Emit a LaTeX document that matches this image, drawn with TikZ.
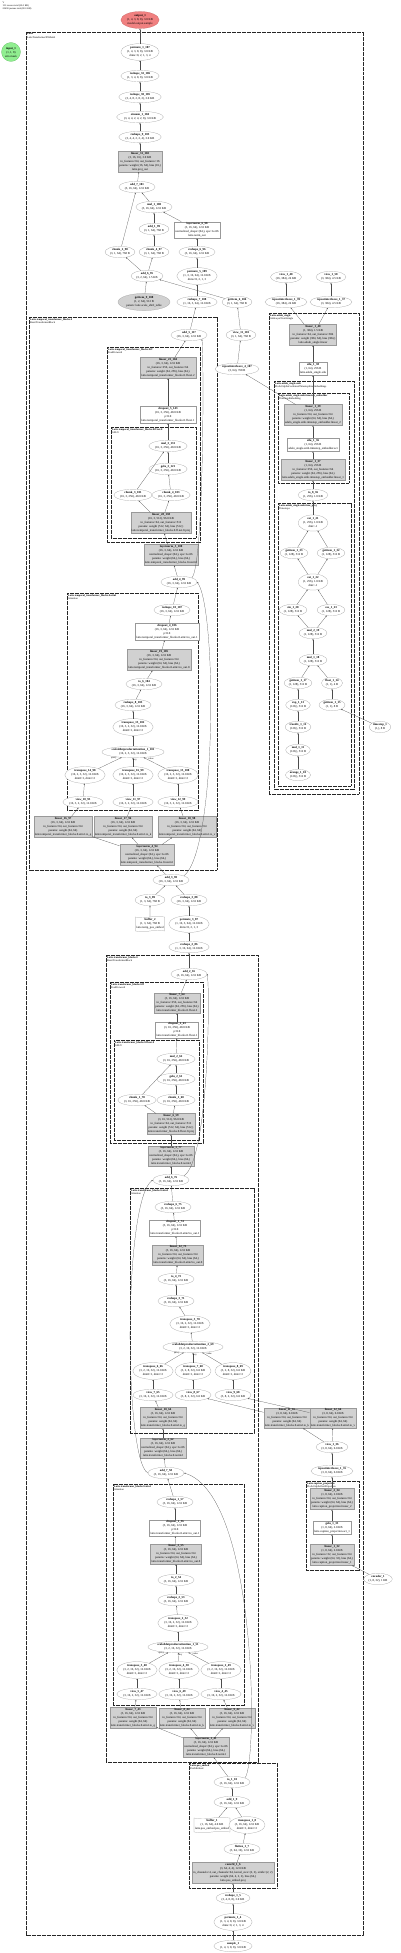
\documentclass[tikz,border=0pt]{standalone}
\usepackage{fontspec}
\setmainfont{Liberation Serif}
\usepackage{xcolor}
\usepackage{tikz}
\usetikzlibrary{arrows.meta,positioning,shapes.geometric,shapes.symbols}
\definecolor{outfill}{HTML}{F08080}
\definecolor{outline}{HTML}{C86464}
\definecolor{infill}{HTML}{90EE90}
\definecolor{inline}{HTML}{5FB85F}
\newcommand{\tfont}{\fontsize{3}{4}\selectfont}
\newcommand{\gfont}{\fontsize{2.6}{3.2}\selectfont}
\newcommand{\opn}[1]{\textbf{#1}}

\begin{document}
\begin{tikzpicture}[
    x=1pt, y=-1pt,
    op/.style={ellipse, draw=black!40, line width=0.2pt, fill=white, inner sep=0.7pt, align=center, font=\tfont},
    opgray/.style={op, fill=black!18},
    mod/.style={rectangle, draw=black!40, line width=0.2pt, fill=black!18, inner sep=1.1pt, align=center, font=\tfont},
    fn/.style={mod, fill=white},
    buf/.style={tape, draw=black!40, line width=0.2pt, fill=white, inner sep=1pt, tape bend height=1.2pt, align=center, font=\tfont},
    outn/.style={op, fill=outfill, draw=outline},
    inn/.style={circle, draw=inline, fill=infill, line width=0.2pt, inner sep=0pt, minimum size=19pt, align=center, font=\tfont},
    grp/.style={draw=black!85, line width=0.45pt, dash pattern=on 0.8pt off 0.45pt},
    glbl/.style={anchor=north west, font=\gfont, align=left, inner sep=0.5pt},
    elbl/.style={font=\fontsize{2.4}{3}\selectfont, inner sep=0.3pt},
    wire/.style={-{Stealth[length=1.5pt, width=1.2pt]}, line width=0.2pt, draw=black!70}
]
    \fill[white] (0,0) rectangle (400,1953);
    \useasboundingbox (0,0) rectangle (400,1953);

    \node[glbl, font=\fontsize{2.4}{3}\selectfont] (hdr) at (2,1) {V\\151 tensors total (20.0 KB)\\20490 params total (80.0 KB)};

    % clusters
    \draw[grp] (26,32) rectangle (363,1935);
    \node[glbl] (gLatte) at (26.5,32.5) {\opn{Latte}\\LatteTransformer3DModel};
    \draw[grp] (29,317) rectangle (217,870);
    \node[glbl] (gTemp) at (29.5,317.5) {\opn{Latte.temporal\_transformer\_blocks.0}\\BasicTransformerBlock};
    \draw[grp] (107,347) rectangle (200,542);
    \node[glbl] (gTempFF) at (107.5,347.5) {\opn{Latte.temporal\_transformer\_blocks.0.ff}\\FeedForward};
    \draw[grp] (111,427) rectangle (196,538);
    \node[glbl] (gTempNet) at (111.5,427.5) {\opn{Latte.temporal\_transformer\_blocks.0.ff.net.0}\\GELU};
    \draw[grp] (67,593) rectangle (198,810);
    \node[glbl] (gTempAttn) at (67.5,593.5) {\opn{Latte.temporal\_transformer\_blocks.0.attn1}\\Attention};
    \draw[grp] (269,313) rectangle (359,794);
    \node[glbl] (gAdaln) at (269.5,313.5) {\opn{Latte.adaln\_single}\\AdaLayerNormSingle};
    \draw[grp] (274,381) rectangle (354,789);
    \node[glbl] (gEmb) at (274.5,381.5) {\opn{Latte.adaln\_single.emb}\\PixArtAlphaCombinedTimestepSizeEmbeddings};
    \draw[grp] (278,393) rectangle (349,483);
    \node[glbl] (gTsEmb) at (278.5,393.5) {\opn{Latte.adaln\_single.emb.timestep\_embedder}\\TimestepEmbedding};
    \draw[grp] (278,503) rectangle (351,786);
    \node[glbl] (gTproj) at (278.5,503.5) {\opn{Latte.adaln\_single.emb.time\_proj}\\Timesteps};
    \draw[grp] (106,955) rectangle (258,1762);
    \node[glbl] (gBlock) at (106.5,955.5) {\opn{Latte.transformer\_blocks.0}\\BasicTransformerBlock};
    \draw[grp] (110,982) rectangle (203,1143);
    \node[glbl] (gBlockFF) at (110.5,982.5) {\opn{Latte.transformer\_blocks.0.ff}\\FeedForward};
    \draw[grp] (114,1040) rectangle (199,1140);
    \node[glbl] (gBlockNet) at (114.5,1040.5) {\opn{Latte.transformer\_blocks.0.ff.net.0}\\GELU};
    \draw[grp] (130,1188) rectangle (254,1433);
    \node[glbl] (gAttnTwo) at (130.5,1188.5) {\opn{Latte.transformer\_blocks.0.attn2}\\Attention};
    \draw[grp] (306,1481) rectangle (359,1570);
    \node[glbl] (gCaption) at (306.5,1481.5) {\opn{Latte.caption\_projection}\\PixArtAlphaTextProjection};
    \draw[grp] (113,1484) rectangle (244,1705);
    \node[glbl] (gAttnOne) at (113.5,1484.5) {\opn{Latte.transformer\_blocks.0.attn1}\\Attention};
    \draw[grp] (189,1763) rectangle (277,1888);
    \node[glbl] (gPos) at (189.5,1763.5) {\opn{Latte.pos\_embed}\\PatchEmbed};

    % output chain
    \node[outn] (out) at (140,20) {\opn{output\_1}\\(1, 4, 3, 8, 8), 3.0 KB\\model.output.sample};
    \node[inn] (inp) at (11,52) {\opn{input\_1}\\(1, 1, 8)\\attn mask};
    \node[op] (perm107) at (140,52) {\opn{permute\_1\_107}\\(1, 4, 3, 8, 8), 3.0 KB\\dims=0, 2, 1, 3, 4};
    \node[op] (resh106) at (140,76) {\opn{reshape\_32\_106}\\(1, 3, 4, 8, 8), 3.0 KB};
    \node[op] (resh105) at (140,97) {\opn{reshape\_30\_105}\\(3, 4, 8, 2, 8, 2), 3.0 KB};
    \node[op] (eins104) at (140,117) {\opn{einsum\_1\_104}\\(3, 4, 4, 2, 4, 2, 8), 3.0 KB};
    \node[op] (resh103) at (140,137) {\opn{reshape\_9\_103}\\(3, 4, 4, 2, 2, 4), 3.0 KB};
    \node[mod] (lin102) at (140,161.5) {\opn{linear\_31\_102}\\(3, 16, 16), 3.0 KB\\in\_features=64, out\_features=16\\params: weight (16, 64), bias (16,)\\latte.proj\_out};
    \node[op] (add101) at (137,187) {\opn{add\_7\_101}\\(3, 16, 64), 12.0 KB};
    \node[op] (mul100) at (154,207) {\opn{mul\_1\_100}\\(3, 16, 64), 12.0 KB};
    \node[op] (add99) at (154,229) {\opn{add\_1\_99}\\(3, 1, 64), 768 B};
    \node[fn] (ln98) at (197,230) {\opn{layernorm\_6\_98}\\(3, 16, 64), 12.0 KB\\normalized\_shape=(64,), eps=1e-06\\latte.norm\_out};
    \node[op] (chk98) at (120,252) {\opn{chunk\_2\_98}\\(3, 1, 64), 768 B};
    \node[op] (chk97) at (154,252) {\opn{chunk\_4\_97}\\(3, 1, 64), 768 B};
    \node[op] (resh96) at (197,252) {\opn{reshape\_6\_96}\\(3, 16, 64), 12.0 KB};
    \node[op] (add95) at (147,276) {\opn{add\_6\_95}\\(3, 2, 64), 1.5 KB};
    \node[op] (perm109) at (197,276) {\opn{permute\_5\_109}\\(1, 3, 16, 64), 12.0 KB\\dims=0, 2, 1, 3};
    \node[opgray] (get108) at (144,302) {\opn{getitem\_9\_108}\\(1, 2, 64), 512 B\\param: latte.scale\_shift\_table};
    \node[op] (resh108) at (197,302) {\opn{reshape\_7\_108}\\(1, 16, 3, 64), 12.0 KB};
    \node[op] (get104) at (237,302) {\opn{getitem\_6\_104}\\(3, 1, 64), 768 B};
    \node[op] (view40) at (286,277) {\opn{view\_1\_40}\\(16, 384), 24 KB};
    \node[op] (view50) at (331,277) {\opn{view\_1\_50}\\(3, 384), 4.5 KB};
    \node[op] (rep39) at (286,302) {\opn{repeatinterleave\_1\_39}\\(16, 384), 24 KB};
    \node[op] (rep37) at (331,302) {\opn{repeatinterleave\_1\_37}\\(3, 384), 4.5 KB};
    \node[op] (add117) at (189,335) {\opn{add\_5\_117}\\(16, 3, 64), 12.0 KB};
    \node[op] (view101) at (241,335) {\opn{view\_11\_101}\\(3, 1, 64), 768 B};
    \node[op] (rep107) at (237,369) {\opn{repeatinterleave\_4\_107}\\(3, 64), 768 B};

    % temporal block
    \node[mod] (lin23) at (168,368) {\opn{linear\_23\_104}\\(16, 3, 64), 12.0 KB\\in\_features=256, out\_features=64\\params: weight (64, 256), bias (64,)\\latte.temporal\_transformer\_blocks.0.ff.net.2};
    \node[fn] (drop5) at (168,415) {\opn{dropout\_5\_143}\\(16, 3, 256), 48.0 KB\\p=0.0\\latte.temporal\_transformer\_blocks.0.ff.net.1};
    \node[op] (mul3) at (168,446) {\opn{mul\_3\_131}\\(16, 3, 256), 48.0 KB};
    \node[op] (gelu3) at (168,469) {\opn{gelu\_3\_121}\\(16, 3, 256), 48.0 KB};
    \node[op] (chk3) at (133,495) {\opn{chunk\_3\_101}\\(16, 3, 256), 48.0 KB};
    \node[op] (chk4) at (171,495) {\opn{chunk\_4\_103}\\(16, 3, 256), 48.0 KB};
    \node[mod] (lin28) at (161,523) {\opn{linear\_28\_138}\\(16, 3, 512), 96.0 KB\\in\_features=64, out\_features=512\\params: weight (512, 64), bias (512,)\\latte.temporal\_transformer\_blocks.0.ff.net.0.proj};
    \node[mod] (ln5) at (171,555) {\opn{layernorm\_5\_100}\\(16, 3, 64), 12.0 KB\\normalized\_shape=(64,), eps=1e-06\\params: weight (64,), bias (64,)\\latte.temporal\_transformer\_blocks.0.norm3};
    \node[op] (add4) at (179,582) {\opn{add\_4\_99}\\(16, 3, 64), 12.0 KB};
    \node[op] (resh107) at (172,610) {\opn{reshape\_10\_107}\\(16, 3, 64), 12.0 KB};
    \node[fn] (drop4) at (167,632) {\opn{dropout\_4\_106}\\(16, 3, 64), 12.0 KB\\p=0.0\\latte.temporal\_transformer\_blocks.0.attn1.to\_out.1};
    \node[mod] (lin19) at (159,660) {\opn{linear\_19\_105}\\(16, 3, 64), 12.0 KB\\in\_features=64, out\_features=64\\params: weight (64, 64), bias (64,)\\latte.temporal\_transformer\_blocks.0.attn1.to\_out.0};
    \node[op] (to6) at (144,684) {\opn{to\_6\_104}\\(16, 3, 64), 12.0 KB};
    \node[op] (resh8) at (133,705) {\opn{reshape\_8\_103}\\(16, 3, 64), 12.0 KB};
    \node[op] (tr13) at (133,727) {\opn{transpose\_13\_102}\\(16, 3, 2, 32), 12.0 KB\\dim0=1, dim1=2};
    \node[op] (sdpa1) at (133,752) {\opn{scaleddotproductattention\_1\_101}\\(16, 2, 3, 32), 12.0 KB};
    \node[op] (tr14) at (85,775) {\opn{transpose\_14\_98}\\(16, 2, 3, 32), 12.0 KB\\dim0=1, dim1=2};
    \node[op] (tr16) at (133,775) {\opn{transpose\_16\_99}\\(16, 2, 3, 32), 12.0 KB\\dim0=1, dim1=2};
    \node[op] (tr15) at (178,775) {\opn{transpose\_15\_100}\\(16, 2, 3, 32), 12.0 KB\\dim0=1, dim1=2};
    \node[op] (view10) at (83,802) {\opn{view\_10\_95}\\(16, 3, 2, 32), 12.0 KB};
    \node[op] (view11) at (133,802) {\opn{view\_11\_97}\\(16, 3, 2, 32), 12.0 KB};
    \node[op] (view12) at (178,802) {\opn{view\_12\_99}\\(16, 3, 2, 32), 12.0 KB};
    \node[mod] (lin16) at (63,827) {\opn{linear\_16\_97}\\(16, 3, 64), 12.0 KB\\in\_features=64, out\_features=64\\params: weight (64, 64)\\latte.temporal\_transformer\_blocks.0.attn1.to\_q};
    \node[mod] (lin17) at (123,827) {\opn{linear\_17\_96}\\(16, 3, 64), 12.0 KB\\in\_features=64, out\_features=64\\params: weight (64, 64)\\latte.temporal\_transformer\_blocks.0.attn1.to\_k};
    \node[mod] (lin18) at (187,827) {\opn{linear\_18\_98}\\(16, 3, 64), 12.0 KB\\in\_features=64, out\_features=64\\params: weight (64, 64)\\latte.temporal\_transformer\_blocks.0.attn1.to\_v};
    \node[mod] (ln4) at (147,855) {\opn{layernorm\_4\_94}\\(16, 3, 64), 12.0 KB\\normalized\_shape=(64,), eps=1e-06\\params: weight (64,), bias (64,)\\latte.temporal\_transformer\_blocks.0.norm1};
    \node[op] (add3) at (171,880) {\opn{add\_3\_90}\\(16, 3, 64), 12.0 KB};
    \node[op] (to3) at (150,900) {\opn{to\_3\_89}\\(1, 3, 64), 768 B};
    \node[op] (resh88) at (189,900) {\opn{reshape\_3\_88}\\(16, 3, 64), 12.0 KB};
    \node[buf] (buf2) at (150,924) {\opn{buffer\_2}\\(1, 3, 64), 768 B\\latte.temp\_pos\_embed};
    \node[op] (perm87) at (189,924) {\opn{permute\_3\_87}\\(1, 16, 3, 64), 12.0 KB\\dims=0, 2, 1, 3};
    \node[op] (resh86) at (189,947) {\opn{reshape\_2\_86}\\(1, 3, 16, 64), 12.0 KB};

    % spatial block
    \node[op] (add65) at (189,974) {\opn{add\_2\_65}\\(3, 16, 64), 12.0 KB};
    \node[mod] (lin7) at (177,1003) {\opn{linear\_7\_64}\\(3, 16, 64), 12.0 KB\\in\_features=256, out\_features=64\\params: weight (64, 256), bias (64,)\\latte.transformer\_blocks.0.ff.net.2};
    \node[fn] (drop2) at (177,1030) {\opn{dropout\_2\_63}\\(3, 16, 256), 48.0 KB\\p=0.0\\latte.transformer\_blocks.0.ff.net.1};
    \node[op] (mul2) at (176,1059) {\opn{mul\_2\_62}\\(3, 16, 256), 48.0 KB};
    \node[op] (gelu2) at (176,1079) {\opn{gelu\_2\_61}\\(3, 16, 256), 48.0 KB};
    \node[op] (chk78) at (137,1100) {\opn{chunk\_1\_78}\\(3, 16, 256), 48.0 KB};
    \node[op] (chk60) at (176,1100) {\opn{chunk\_1\_60}\\(3, 16, 256), 48.0 KB};
    \node[mod] (lin6) at (171,1124) {\opn{linear\_6\_59}\\(3, 16, 512), 96.0 KB\\in\_features=64, out\_features=512\\params: weight (512, 64), bias (512,)\\latte.transformer\_blocks.0.ff.net.0.proj};
    \node[mod] (ln3) at (171,1156) {\opn{layernorm\_3\_77}\\(3, 16, 64), 12.0 KB\\normalized\_shape=(64,), eps=1e-06\\params: weight (64,), bias (64,)\\latte.transformer\_blocks.0.norm3};
    \node[op] (add76) at (171,1180) {\opn{add\_6\_76}\\(3, 16, 64), 12.0 KB};
    \node[op] (resh75) at (173,1207) {\opn{reshape\_6\_75}\\(3, 16, 64), 12.0 KB};
    \node[fn] (drop74) at (175,1228) {\opn{dropout\_1\_74}\\(3, 16, 64), 12.0 KB\\p=0.0\\latte.transformer\_blocks.0.attn2.to\_out.1};
    \node[mod] (lin73) at (178,1255) {\opn{linear\_12\_73}\\(3, 16, 64), 12.0 KB\\in\_features=64, out\_features=64\\params: weight (64, 64), bias (64,)\\latte.transformer\_blocks.0.attn2.to\_out.0};
    \node[op] (to72) at (176,1279) {\opn{to\_4\_72}\\(3, 16, 64), 12.0 KB};
    \node[op] (resh71) at (176,1301) {\opn{reshape\_3\_71}\\(3, 16, 64), 12.0 KB};
    \node[op] (tr70) at (190,1324) {\opn{transpose\_5\_70}\\(3, 16, 2, 32), 12.0 KB\\dim0=1, dim1=2};
    \node[op] (sdpa2) at (193,1347) {\opn{scaleddotproductattention\_2\_69}\\(3, 2, 16, 32), 12.0 KB};
    \node[op] (tr66) at (153,1371) {\opn{transpose\_6\_66}\\(3, 2, 16, 32), 12.0 KB\\dim0=1, dim1=2};
    \node[op] (tr68) at (193,1371) {\opn{transpose\_7\_68}\\(3, 2, 8, 32), 6.0 KB\\dim0=1, dim1=2};
    \node[op] (tr69) at (233,1371) {\opn{transpose\_8\_69}\\(3, 2, 8, 32), 6.0 KB\\dim0=1, dim1=2};
    \node[op] (view65) at (153,1395) {\opn{view\_7\_65}\\(3, 16, 2, 32), 12.0 KB};
    \node[op] (view67) at (193,1395) {\opn{view\_8\_67}\\(3, 8, 2, 32), 6.0 KB};
    \node[op] (view68) at (233,1395) {\opn{view\_9\_68}\\(3, 8, 2, 32), 6.0 KB};
    \node[mod] (lin64) at (163,1418) {\opn{linear\_10\_64}\\(3, 16, 64), 12.0 KB\\in\_features=64, out\_features=64\\params: weight (64, 64)\\latte.transformer\_blocks.0.attn2.to\_q};
    \node[mod] (lin65) at (287,1418) {\opn{linear\_11\_65}\\(3, 8, 64), 6.0 KB\\in\_features=64, out\_features=64\\params: weight (64, 64)\\latte.transformer\_blocks.0.attn2.to\_k};
    \node[mod] (lin66) at (333,1418) {\opn{linear\_12\_66}\\(3, 8, 64), 6.0 KB\\in\_features=64, out\_features=64\\params: weight (64, 64)\\latte.transformer\_blocks.0.attn2.to\_v};
    \node[mod] (ln62) at (163,1448) {\opn{layernorm\_2\_62}\\(3, 16, 64), 12.0 KB\\normalized\_shape=(64,), eps=1e-06\\params: weight (64,), bias (64,)\\latte.transformer\_blocks.0.norm2};
    \node[op] (view36) at (332,1447) {\opn{view\_1\_36}\\(3, 8, 64), 6.0 KB};
    \node[op] (rep35) at (332,1471) {\opn{repeatinterleave\_1\_35}\\(3, 8, 64), 6.0 KB};
    \node[mod] (lin34) at (332,1499) {\opn{linear\_2\_34}\\(1, 8, 64), 2.0 KB\\in\_features=64, out\_features=64\\params: weight (64, 64), bias (64,)\\latte.caption\_projection.linear\_2};
    \node[fn] (gelu33) at (332,1528) {\opn{gelu\_1\_33}\\(1, 8, 64), 2.0 KB\\latte.caption\_projection.act\_1};
    \node[mod] (lin32) at (332,1555) {\opn{linear\_1\_32}\\(1, 8, 64), 2.0 KB\\in\_features=32, out\_features=64\\params: weight (64, 32), bias (64,)\\latte.caption\_projection.linear\_1};
    \node[op] (enc) at (378,1579) {\opn{encoder\_1}\\(1, 8, 32), 1 KB};
    \node[op] (add58) at (166,1473) {\opn{add\_7\_58}\\(3, 16, 64), 12.0 KB};
    \node[op] (resh57) at (175,1502) {\opn{reshape\_1\_57}\\(3, 16, 64), 12.0 KB};
    \node[fn] (drop56) at (175,1528) {\opn{dropout\_1\_56}\\(3, 16, 64), 12.0 KB\\p=0.0\\latte.transformer\_blocks.0.attn1.to\_out.1};
    \node[mod] (lin55) at (176,1554) {\opn{linear\_3\_55}\\(3, 16, 64), 12.0 KB\\in\_features=64, out\_features=64\\params: weight (64, 64), bias (64,)\\latte.transformer\_blocks.0.attn1.to\_out.0};
    \node[op] (to54) at (176,1580) {\opn{to\_2\_54}\\(3, 16, 64), 12.0 KB};
    \node[op] (resh53) at (176,1600) {\opn{reshape\_2\_53}\\(3, 16, 64), 12.0 KB};
    \node[op] (tr52) at (178,1623) {\opn{transpose\_2\_52}\\(3, 16, 2, 32), 12.0 KB\\dim0=1, dim1=2};
    \node[op] (sdpa3) at (178,1647) {\opn{scaleddotproductattention\_1\_51}\\(3, 2, 16, 32), 12.0 KB};
    \node[op] (tr48) at (137,1670) {\opn{transpose\_3\_48}\\(3, 2, 16, 32), 12.0 KB\\dim0=1, dim1=2};
    \node[op] (tr50) at (179,1670) {\opn{transpose\_4\_50}\\(3, 2, 16, 32), 12.0 KB\\dim0=1, dim1=2};
    \node[op] (tr49) at (221,1670) {\opn{transpose\_2\_49}\\(3, 2, 16, 32), 12.0 KB\\dim0=1, dim1=2};
    \node[op] (view47) at (137,1694) {\opn{view\_5\_47}\\(3, 16, 2, 32), 12.0 KB};
    \node[op] (view49) at (179,1694) {\opn{view\_6\_49}\\(3, 16, 2, 32), 12.0 KB};
    \node[op] (view45) at (221,1694) {\opn{view\_4\_45}\\(3, 16, 2, 32), 12.0 KB};
    \node[mod] (lin43) at (133,1718) {\opn{linear\_7\_43}\\(3, 16, 64), 12.0 KB\\in\_features=64, out\_features=64\\params: weight (64, 64)\\latte.transformer\_blocks.0.attn1.to\_q};
    \node[mod] (lin44) at (182,1718) {\opn{linear\_8\_44}\\(3, 16, 64), 12.0 KB\\in\_features=64, out\_features=64\\params: weight (64, 64)\\latte.transformer\_blocks.0.attn1.to\_k};
    \node[mod] (lin42) at (232,1718) {\opn{linear\_9\_42}\\(3, 16, 64), 12.0 KB\\in\_features=64, out\_features=64\\params: weight (64, 64)\\latte.transformer\_blocks.0.attn1.to\_v};
    \node[mod] (ln41) at (206,1747) {\opn{layernorm\_1\_41}\\(3, 16, 64), 12.0 KB\\normalized\_shape=(64,), eps=1e-06\\params: weight (64,), bias (64,)\\latte.transformer\_blocks.0.norm1};

    % patch embedding
    \node[op] (to10) at (232,1782) {\opn{to\_1\_10}\\(3, 16, 64), 12.0 KB};
    \node[op] (add9) at (232,1802) {\opn{add\_1\_9}\\(3, 16, 64), 12.0 KB};
    \node[buf] (buf1) at (212,1825) {\opn{buffer\_1}\\(1, 16, 64), 4.0 KB\\latte.pos\_embed.pos\_embed};
    \node[op] (tr8) at (247,1825) {\opn{transpose\_1\_8}\\(3, 16, 64), 12.0 KB\\dim0=1, dim1=2};
    \node[op] (flat7) at (242,1849) {\opn{flatten\_1\_7}\\(3, 64, 16), 12.0 KB};
    \node[mod] (conv6) at (233,1873) {\opn{conv2d\_1\_6}\\(3, 64, 4, 4), 12.0 KB\\in\_channels=4, out\_channels=64, kernel\_size=(2, 2), stride=(2, 2)\\params: weight (64, 4, 2, 2), bias (64,)\\latte.pos\_embed.proj};
    \node[op] (resh5) at (233,1898) {\opn{reshape\_1\_5}\\(3, 4, 8, 8), 3.0 KB};
    \node[op] (perm4) at (233,1922) {\opn{permute\_1\_4}\\(1, 3, 4, 8, 8), 3.0 KB\\dims=0, 2, 1, 3, 4};
    \node[op] (sample) at (233,1946) {\opn{sample\_1}\\(1, 4, 3, 8, 8), 3.0 KB};

    % timestep conditioning
    \node[mod] (lin40) at (313,335) {\opn{linear\_1\_40}\\(1, 384), 1.5 KB\\in\_features=64, out\_features=384\\params: weight (384, 64), bias (384,)\\latte.adaln\_single.linear};
    \node[fn] (silu38) at (313,369) {\opn{silu\_1\_38}\\(1, 64), 256 B\\latte.adaln\_single.silu};
    \node[mod] (lin39) at (313,415) {\opn{linear\_1\_39}\\(1, 64), 256 B\\in\_features=64, out\_features=64\\params: weight (64, 64), bias (64,)\\adaln\_single.emb.timestep\_embedder.linear\_2};
    \node[fn] (silu36) at (313,445) {\opn{silu\_1\_36}\\(1, 64), 256 B\\adaln\_single.emb.timestep\_embedder.act};
    \node[mod] (lin37) at (313,470) {\opn{linear\_1\_37}\\(1, 64), 256 B\\in\_features=256, out\_features=64\\params: weight (64, 256), bias (64,)\\latte.adaln\_single.emb.timestep\_embedder.linear\_1};
    \node[op] (to36) at (313,495) {\opn{to\_8\_36}\\(1, 256), 1.0 KB};
    \node[op] (cat21) at (313,523) {\opn{cat\_1\_21}\\(1, 256), 1.0 KB\\dim=-1};
    \node[op] (get33) at (294,553) {\opn{getitem\_1\_33}\\(1, 128), 512 B};
    \node[op] (get32) at (331,553) {\opn{getitem\_1\_32}\\(1, 128), 512 B};
    \node[op] (cat22) at (313,582) {\opn{cat\_1\_22}\\(1, 256), 1.0 KB\\dim=-1};
    \node[op] (sin20) at (293,610) {\opn{sin\_1\_20}\\(1, 128), 512 B};
    \node[op] (cos23) at (331,610) {\opn{cos\_1\_23}\\(1, 128), 512 B};
    \node[op] (mul19) at (313,633) {\opn{mul\_2\_19}\\(1, 128), 512 B};
    \node[op] (mul18) at (313,660) {\opn{mul\_1\_18}\\(1, 128), 512 B};
    \node[op] (get17) at (298,683) {\opn{getitem\_1\_17}\\(1, 128), 512 B};
    \node[op] (flt14) at (332,683) {\opn{float\_1\_14}\\(1, 1), 4 B};
    \node[op] (exp13) at (298,705) {\opn{exp\_1\_13}\\(128,), 512 B};
    \node[op] (get15) at (332,705) {\opn{getitem\_1\_15}\\(1, 1), 8 B};
    \node[op] (div12) at (298,727) {\opn{truediv\_1\_12}\\(128,), 512 B};
    \node[op] (mul11) at (298,750) {\opn{mul\_1\_11}\\(128,), 512 B};
    \node[op] (arng10) at (298,775) {\opn{arange\_1\_10}\\(128,), 512 B};
    \node[op] (tstep) at (380,727) {\opn{timestep\_1}\\(1,), 8 B};

    % connectors: output chain
    \draw[wire] (perm107) -- (out);
    \draw[wire] (resh106) -- (perm107);
    \draw[wire] (resh105) -- (resh106);
    \draw[wire] (eins104) -- (resh105);
    \draw[wire] (resh103) -- (eins104);
    \draw[wire] (lin102) -- (resh103);
    \draw[wire] (add101) -- (lin102);
    \draw[wire] (mul100) -- (add101);
    \draw[wire] (chk98) -- (add101);
    \draw[wire] (add99) -- (mul100);
    \draw[wire] (ln98) -- (mul100);
    \draw[wire] (chk97) -- (add99);
    \draw[wire] (add95) -- (chk98);
    \draw[wire] (add95) -- (chk97);
    \draw[wire] (resh96) -- (ln98);
    \draw[wire] (perm109) -- (resh96);
    \draw[wire] (resh108) -- (perm109);
    \draw[wire] (get108) -- (add95);
    \draw[wire] (get104) -- (add95);
    \draw[wire] (add117) -- (resh108);
    \draw[wire] (view101) -- (get104);
    \draw[wire] (rep107) -- (view101);
    \draw[wire] (lin39) -- (rep107);
    \draw[wire] (rep39) -- (view40);
    \draw[wire] (rep37) -- (view50);
    \draw[wire] (lin40) -- (rep39);
    \draw[wire] (lin40) -- (rep37);

    % connectors: temporal block
    \draw[wire] (lin23) -- (add117);
    \draw[wire] (add4.north east) .. controls (204,565) and (204,355) .. (add117.south east);
    \draw[wire] (drop5) -- (lin23);
    \draw[wire] (mul3) -- (drop5);
    \draw[wire] (gelu3) -- (mul3);
    \draw[wire] (chk3) -- (mul3);
    \draw[wire] (chk4) -- (gelu3);
    \draw[wire] (lin28) -- (chk3);
    \draw[wire] (lin28) -- (chk4);
    \draw[wire] (ln5) -- (lin28);
    \draw[wire] (add4) -- (ln5);
    \draw[wire] (resh107) -- (add4);
    \draw[wire] (add3.north east) .. controls (217,850) and (217,610) .. (add4.east);
    \draw[wire] (drop4) -- (resh107);
    \draw[wire] (lin19) -- (drop4);
    \draw[wire] (to6) -- (lin19);
    \draw[wire] (resh8) -- (to6);
    \draw[wire] (tr13) -- (resh8);
    \draw[wire] (sdpa1) -- (tr13);
    \draw[wire] (tr14) -- node[elbl, pos=0.8, above left] {query} (sdpa1);
    \draw[wire] (tr16) -- node[elbl, pos=0.75, right] {key} (sdpa1);
    \draw[wire] (tr15) -- node[elbl, pos=0.8, above right] {value} (sdpa1);
    \draw[wire] (view10) -- (tr14);
    \draw[wire] (view11) -- (tr16);
    \draw[wire] (view12) -- (tr15);
    \draw[wire] (lin16) -- (view10);
    \draw[wire] (lin17) -- (view11);
    \draw[wire] (lin18) -- (view12);
    \draw[wire] (ln4) -- (lin16);
    \draw[wire] (ln4) -- (lin17);
    \draw[wire] (ln4) -- (lin18);
    \draw[wire] (add3) -- (ln4);
    \draw[wire] (to3) -- (add3);
    \draw[wire] (resh88) -- (add3);
    \draw[wire] (buf2) -- (to3);
    \draw[wire] (perm87) -- (resh88);
    \draw[wire] (resh86) -- (perm87);
    \draw[wire] (add65) -- (resh86);

    % connectors: spatial block
    \draw[wire] (lin7) -- (add65);
    \draw[wire] (add76.north east) .. controls (209,1160) and (210,990) .. (add65.east);
    \draw[wire] (drop2) -- (lin7);
    \draw[wire] (mul2) -- (drop2);
    \draw[wire] (gelu2) -- (mul2);
    \draw[wire] (chk78) -- (mul2);
    \draw[wire] (chk60) -- (gelu2);
    \draw[wire] (lin6) -- (chk78);
    \draw[wire] (lin6) -- (chk60);
    \draw[wire] (ln3) -- (lin6);
    \draw[wire] (add76) -- (ln3);
    \draw[wire] (resh75) -- (add76);
    \draw[wire] (add58.west) .. controls (124,1460) and (123,1200) .. (add76.west);
    \draw[wire] (drop74) -- (resh75);
    \draw[wire] (lin73) -- (drop74);
    \draw[wire] (to72) -- (lin73);
    \draw[wire] (resh71) -- (to72);
    \draw[wire] (tr70) -- (resh71);
    \draw[wire] (sdpa2) -- (tr70);
    \draw[wire] (tr66) -- node[elbl, pos=0.8, above left] {query} (sdpa2);
    \draw[wire] (tr68) -- node[elbl, pos=0.75, right] {key} (sdpa2);
    \draw[wire] (tr69) -- node[elbl, pos=0.8, above right] {value} (sdpa2);
    \draw[wire] (view65) -- (tr66);
    \draw[wire] (view67) -- (tr68);
    \draw[wire] (view68) -- (tr69);
    \draw[wire] (lin64) -- (view65);
    \draw[wire] (lin65) -- (view67);
    \draw[wire] (lin66) -- (view68);
    \draw[wire] (ln62) -- (lin64);
    \draw[wire] (view36) -- (lin65);
    \draw[wire] (view36) -- (lin66);
    \draw[wire] (rep35) -- (view36);
    \draw[wire] (lin34) -- (rep35);
    \draw[wire] (gelu33) -- (lin34);
    \draw[wire] (lin32) -- (gelu33);
    \draw[wire] (enc) -- (lin32);
    \draw[wire] (add58) -- (ln62);
    \draw[wire] (resh57) -- (add58);
    \draw[wire] (to10.north east) .. controls (258,1765) and (258,1495) .. (add58.east);
    \draw[wire] (drop56) -- (resh57);
    \draw[wire] (lin55) -- (drop56);
    \draw[wire] (to54) -- (lin55);
    \draw[wire] (resh53) -- (to54);
    \draw[wire] (tr52) -- (resh53);
    \draw[wire] (sdpa3) -- (tr52);
    \draw[wire] (tr48) -- node[elbl, pos=0.8, above left] {query} (sdpa3);
    \draw[wire] (tr50) -- node[elbl, pos=0.75, right] {key} (sdpa3);
    \draw[wire] (tr49) -- node[elbl, pos=0.8, above right] {value} (sdpa3);
    \draw[wire] (view47) -- (tr48);
    \draw[wire] (view49) -- (tr50);
    \draw[wire] (view45) -- (tr49);
    \draw[wire] (lin43) -- (view47);
    \draw[wire] (lin44) -- (view49);
    \draw[wire] (lin42) -- (view45);
    \draw[wire] (ln41) -- (lin43);
    \draw[wire] (ln41) -- (lin44);
    \draw[wire] (ln41) -- (lin42);
    \draw[wire] (to10) -- (ln41);

    % connectors: patch embedding
    \draw[wire] (add9) -- (to10);
    \draw[wire] (buf1) -- (add9);
    \draw[wire] (tr8) -- (add9);
    \draw[wire] (flat7) -- (tr8);
    \draw[wire] (conv6) -- (flat7);
    \draw[wire] (resh5) -- (conv6);
    \draw[wire] (perm4) -- (resh5);
    \draw[wire] (sample) -- (perm4);

    % connectors: timestep conditioning
    \draw[wire] (silu38) -- (lin40);
    \draw[wire] (lin39) -- (silu38);
    \draw[wire] (silu36) -- (lin39);
    \draw[wire] (lin37) -- (silu36);
    \draw[wire] (to36) -- (lin37);
    \draw[wire] (cat21) -- (to36);
    \draw[wire] (get33) -- (cat21);
    \draw[wire] (get32) -- (cat21);
    \draw[wire] (cat22) -- (get33);
    \draw[wire] (cat22) -- (get32);
    \draw[wire] (sin20) -- (cat22);
    \draw[wire] (cos23) -- (cat22);
    \draw[wire] (mul19) -- (sin20);
    \draw[wire] (mul19) -- (cos23);
    \draw[wire] (mul18) -- (mul19);
    \draw[wire] (get17) -- (mul18);
    \draw[wire] (flt14) -- (mul18);
    \draw[wire] (exp13) -- (get17);
    \draw[wire] (get15) -- (flt14);
    \draw[wire] (div12) -- (exp13);
    \draw[wire] (mul11) -- (div12);
    \draw[wire] (arng10) -- (mul11);
    \draw[wire] (tstep) -- (get15);
\end{tikzpicture}
\end{document}
